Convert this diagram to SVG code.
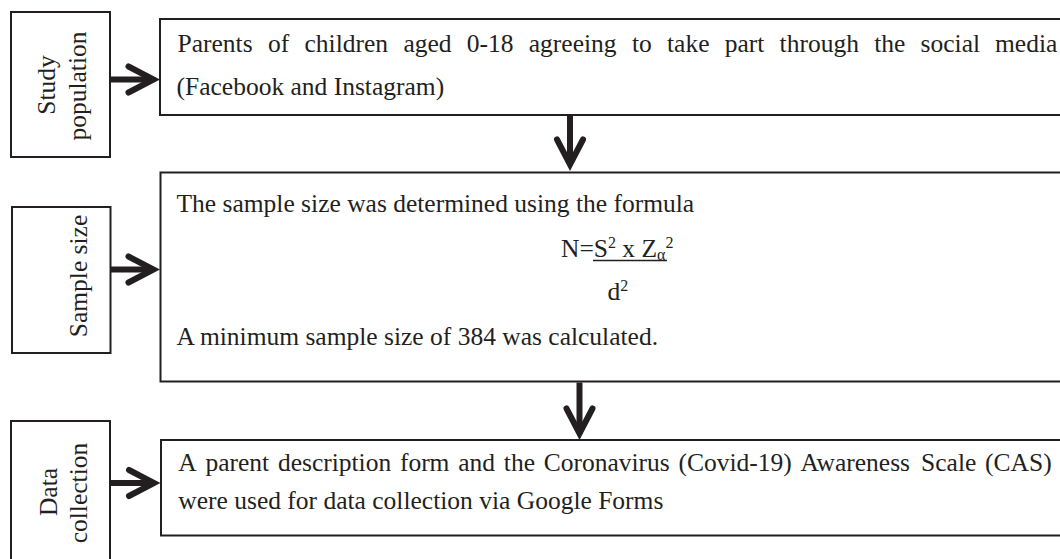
<svg xmlns="http://www.w3.org/2000/svg" width="1060" height="559" viewBox="0 0 1060 559">
<style>
.box{fill:#fff;stroke:#231f20;stroke-width:2}
.t{font-family:"Liberation Serif","Times New Roman",serif;font-size:25.5px;fill:#231f20}
.lbl{text-anchor:middle}
.sup{font-size:16px}
.conn line{stroke:#231f20;stroke-width:6}
</style>
<defs>
<marker id="ah" markerUnits="userSpaceOnUse" viewBox="-32 -18 40 36" markerWidth="40" markerHeight="36" refX="0" refY="0" orient="auto" overflow="visible">
<path d="M-25,-13 L0,0 L-25,13" fill="none" stroke="#231f20" stroke-width="6" stroke-linecap="round" stroke-linejoin="miter"/>
</marker>
</defs>
<rect width="1060" height="559" fill="#fff"/>

<g id="label-study-population">
<rect class="box" x="11" y="12" width="99" height="145"/>
<text class="t lbl" x="55" y="85" transform="rotate(-90 55 85)">Study</text>
<text class="t lbl" x="86" y="86" transform="rotate(-90 86 86)">population</text>
</g>

<g id="box-study-population">
<rect class="box" x="160" y="19" width="920" height="96"/>
<text class="t" y="52"><tspan x="177.5">Parents</tspan><tspan x="268">of</tspan><tspan x="304.5">children</tspan><tspan x="403.4">aged</tspan><tspan x="466.8">0-18</tspan><tspan x="528.8">agreeing</tspan><tspan x="631.9">to</tspan><tspan x="667">take</tspan><tspan x="724.7">part</tspan><tspan x="779.6">through</tspan><tspan x="874.2">the</tspan><tspan x="920.6">social</tspan><tspan x="995">media</tspan></text>
<text class="t" x="176.5" y="95">(Facebook and Instagram)</text>
</g>

<g id="label-sample-size">
<rect class="box" x="12" y="207" width="98.5" height="146"/>
<text class="t lbl" x="87" y="276" transform="rotate(-90 87 276)">Sample size</text>
</g>

<g id="box-sample-size">
<rect class="box" x="160.5" y="172.5" width="920" height="209"/>
<text class="t" x="176.5" y="212">The sample size was determined using the formula</text>
<text class="t" x="561" y="257">N=S<tspan class="sup" dy="-9">2</tspan><tspan dy="9"> x Z</tspan><tspan class="sup" dy="2.5">α</tspan><tspan class="sup" dy="-12">2</tspan></text>
<line x1="593" y1="260.5" x2="667" y2="260.5" stroke="#231f20" stroke-width="1.6"/>
<text class="t" x="607.5" y="300">d<tspan class="sup" dy="-9">2</tspan></text>
<text class="t" x="176.5" y="345">A minimum sample size of 384 was calculated.</text>
</g>

<g id="label-data-collection">
<rect class="box" x="11" y="421" width="99" height="150"/>
<text class="t lbl" x="56.5" y="492" transform="rotate(-90 56.5 492)">Data</text>
<text class="t lbl" x="87" y="493" transform="rotate(-90 87 493)">collection</text>
</g>

<g id="box-data-collection">
<rect class="box" x="161" y="440" width="920" height="95.5"/>
<text class="t" y="471"><tspan x="178.3">A</tspan><tspan x="205.4">parent</tspan><tspan x="277.9">description</tspan><tspan x="399.9">form</tspan><tspan x="458.2">and</tspan><tspan x="503.8">the</tspan><tspan x="543.7">Coronavirus</tspan><tspan x="678.5">(Covid-19)</tspan><tspan x="800.5">Awareness</tspan><tspan x="921.1">Scale</tspan><tspan x="985.1">(CAS)</tspan></text>
<text class="t" x="178.3" y="509">were used for data collection via Google Forms</text>
</g>

<g id="connectors" class="conn">
<line x1="110" y1="79.5" x2="153.5" y2="79.5" marker-end="url(#ah)"/>
<line x1="110" y1="269.5" x2="153.5" y2="269.5" marker-end="url(#ah)"/>
<line x1="110" y1="483" x2="154" y2="483" marker-end="url(#ah)"/>
<line x1="570" y1="116" x2="570" y2="164.5" marker-end="url(#ah)"/>
<line x1="579.5" y1="382.5" x2="579.5" y2="433.5" marker-end="url(#ah)"/>
</g>
</svg>
